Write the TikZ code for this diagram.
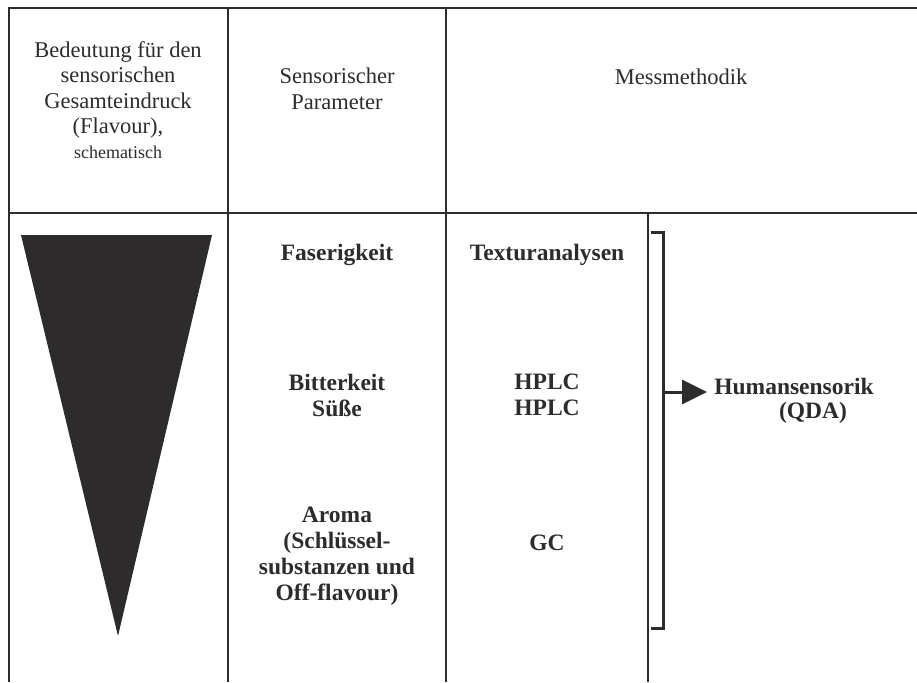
\documentclass[tikz,border=0pt]{standalone}
\usepackage{fontspec}
\setmainfont{Liberation Serif}
\usetikzlibrary{arrows.meta}
\definecolor{ink}{HTML}{2D2B2C}
\tikzset{
  grid/.style={draw=ink, line width=1.3pt},
  hdr/.style={align=center, font=\fontsize{22.5}{25.5}\selectfont, text=ink, inner sep=0pt},
  small/.style={align=center, font=\fontsize{18}{21}\selectfont, text=ink, inner sep=0pt},
  cell/.style={align=center, font=\fontsize{23.5}{26}\selectfont\bfseries, text=ink, inner sep=0pt},
  brace/.style={draw=ink, line width=3pt},
  pointer/.style={draw=ink, line width=3pt, -{Triangle[length=25pt,width=24pt]}}
}
\begin{document}
\begin{tikzpicture}[x=1pt,y=-1pt]
\useasboundingbox (0,0) rectangle (917,682);
% table grid
\draw[grid] (8,8) -- (917,8);
\draw[grid] (8,213) -- (917,213);
\draw[grid] (9,8) -- (9,682);
\draw[grid] (228,8) -- (228,682);
\draw[grid] (446,8) -- (446,682);
\draw[grid] (648,213) -- (648,682);
% header texts
\node[hdr] (h1) at (118,90) {Bedeutung für den\\sensorischen\\Gesamteindruck\\(Flavour),};
\node[small] (h1s) at (118,152) {schematisch};
\node[hdr] (h2) at (337,89) {Sensorischer\\Parameter};
\node[hdr] (h3) at (681,77) {Messmethodik};
% triangle
\fill[ink] (21,235) -- (212,235) -- (118,636) -- cycle;
% parameters
\node[cell] (p1) at (337,255) {Faserigkeit};
\node[cell] (p2) at (337,395) {Bitterkeit\\Süße};
\node[cell] (p3) at (337,556) {Aroma\\(Schlüssel-\\substanzen und\\Off-flavour)};
% methods
\node[cell] (m1) at (547,255) {Texturanalysen};
\node[cell] (m2) at (547,395) {HPLC\\HPLC};
\node[cell] (m3) at (547,543) {GC};
% bracket
\coordinate (bt) at (651,232);
\coordinate (bb) at (651,628);
\draw[brace] (bt) -| (663,628) -- (bb);
\coordinate (brk) at (663,392);
\coordinate (tip) at (707,392);
\draw[pointer] (brk) -- (tip);
\node[cell] (hs) at (794,386) {Humansensorik};
\node[cell] (qda) at (813,413) {(QDA)};
\end{tikzpicture}
\end{document}
